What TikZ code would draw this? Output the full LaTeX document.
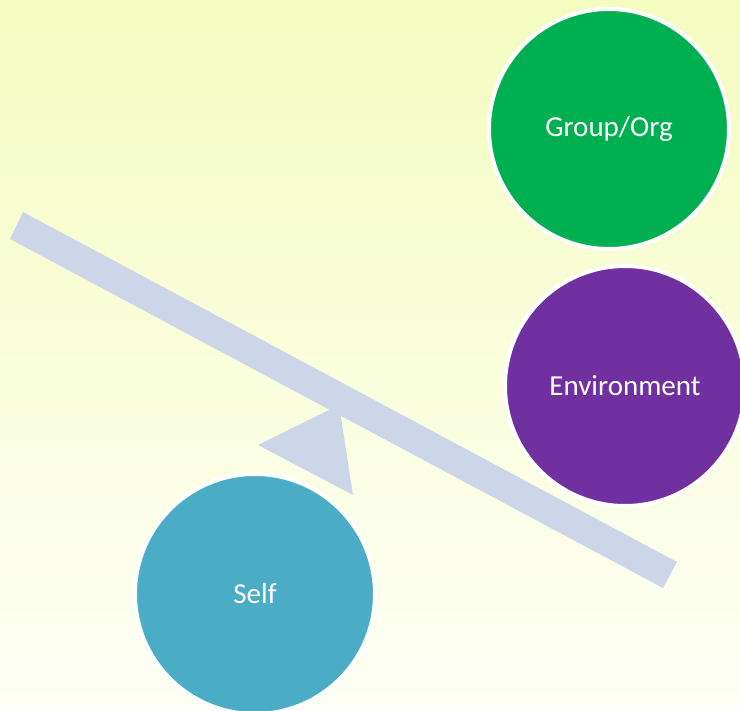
\documentclass[tikz,border=0pt]{standalone}
\usepackage{fontspec}
\setmainfont{Carlito}
\usetikzlibrary{shapes.geometric, positioning}
\definecolor{bgtop}{RGB}{244,252,192}
\definecolor{bgbot}{RGB}{254,255,246}
\definecolor{beamgray}{RGB}{205,213,232}
\definecolor{orggreen}{RGB}{0,176,80}
\definecolor{envpurple}{RGB}{112,48,160}
\definecolor{selfteal}{RGB}{75,172,198}
\tikzstyle{ball} = [circle, draw=white, line width=4pt, text=white, minimum size=240pt, inner sep=0pt, font=\fontsize{29}{33}\selectfont]
\tikzstyle{plank} = [fill=beamgray, draw=none]

\begin{document}
\begin{tikzpicture}[x=1pt, y=-1pt]
            % Background
            \useasboundingbox (0,0) rectangle (740,711);
            \clip (0,0) rectangle (740,711);
            \shade[top color=bgtop, bottom color=bgbot] (0,0) rectangle (740,711);

            % Seesaw
            \fill[plank] (258,445) -- (339,405) -- (353,495) -- cycle;
            \fill[plank] (23,212) -- (677,562) -- (663,588) -- (10,239) -- cycle;

            % Nodes
            \node[ball, fill=orggreen] (org) at (609,129) {Group/Org};
            \node[ball, fill=envpurple] (env) at (625,386) {Environment};
            \node[ball, fill=selfteal] (self) at (255,594) {Self};
        \end{tikzpicture}
\end{document}
